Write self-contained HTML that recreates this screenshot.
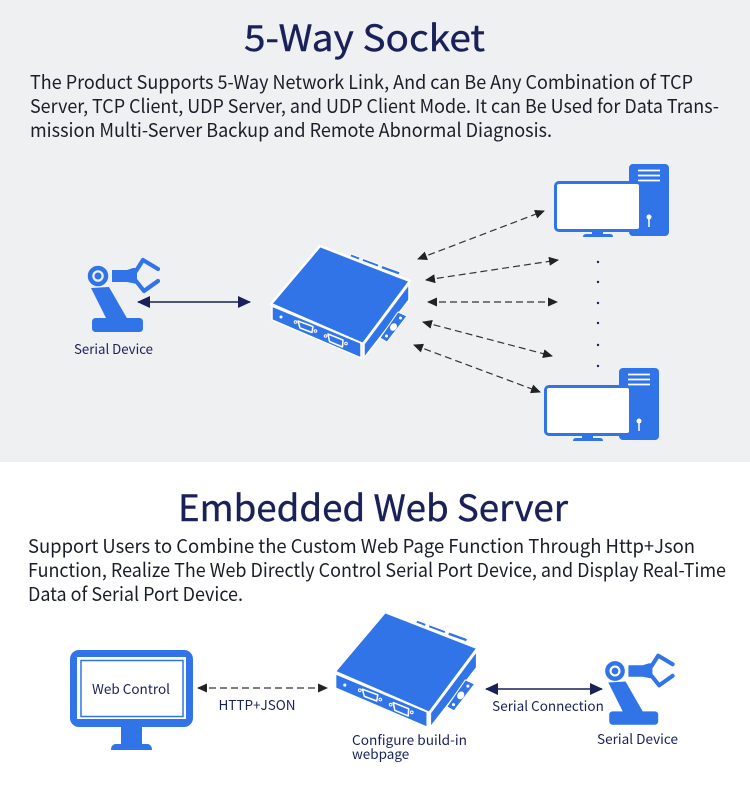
<!DOCTYPE html>
<html><head><meta charset="utf-8">
<style>
html,body{margin:0;padding:0;background:#fff}
svg{display:block}
text{font-family:"Noto Sans CJK SC","Liberation Sans",sans-serif}
</style></head><body>
<svg width="750" height="792" viewBox="0 0 750 792" xmlns="http://www.w3.org/2000/svg">
<defs>
<marker id="a" markerWidth="12" markerHeight="10" refX="9" refY="4.500" orient="auto-start-reverse" markerUnits="userSpaceOnUse"><path d="M0 0L10 4.500L0 9z" fill="#222"/></marker>
<marker id="b" markerWidth="14" markerHeight="14" refX="12" refY="6" orient="auto-start-reverse" markerUnits="userSpaceOnUse"><path d="M0 0L13 6L0 12z" fill="#1a2159"/></marker>
<g id="dev">
<path d="M351 254L360 257.500L359 260L350 256.500Z M363 258.500L379 264.500L378 267L362 261Z M382 265.500L400 272L399 275L381 268.500Z" fill="#3074e8" stroke="#fff" stroke-width=".8"/>
<path d="M320 246L410 281L363 344L271 304Z" fill="#3074e8" stroke="#fff" stroke-width="2.500" stroke-linejoin="miter"/>
<path d="M272 306L361 343V358L272 320Z" fill="#3074e8" stroke="#fff" stroke-width="1.500"/>
<path d="M409 284V300L364 358V344Z" fill="#3074e8" stroke="#fff" stroke-width="1.500"/>
<path d="M380 338L398 312L407 316L387 342Z" fill="#3074e8" stroke="#fff" stroke-width="1"/>
<ellipse cx="393.500" cy="327" rx="4" ry="3.200" fill="#fff" transform="rotate(-55 393.500 327)"/><circle cx="400.500" cy="318" r="1.500" fill="#fff"/><circle cx="386.500" cy="336" r="1.500" fill="#fff"/>
<circle cx="281" cy="317" r="1.500" fill="#fff"/>
<path d="M298 321L313 326.500L312 332.500L300 328Z" fill="none" stroke="#fff" stroke-width="1.500" stroke-linejoin="round"/>
<path d="M328 334L343 340L342.500 347L329.500 341.500Z" fill="none" stroke="#fff" stroke-width="1.500" stroke-linejoin="round"/>
<circle cx="295.500" cy="322" r="1.300" fill="none" stroke="#fff"/><circle cx="315.500" cy="331" r="1.300" fill="none" stroke="#fff"/>
<circle cx="325.500" cy="336" r="1.300" fill="none" stroke="#fff"/><circle cx="346" cy="343.500" r="1.300" fill="none" stroke="#fff"/>
</g>
<g id="arm">
<circle cx="98" cy="276" r="8" fill="none" stroke="#3074e8" stroke-width="4.500"/>
<circle cx="98" cy="276" r="3.500" fill="#3074e8"/>
<path d="M91 288L109 287L128 320H107Z" fill="#3074e8"/>
<rect x="92" y="318" width="51" height="14" rx="3.500" fill="#3074e8"/>
<path d="M112 270H127L133 268H137V284L127 282H112Z" fill="#3074e8"/>
<path d="M136 271L143 260L158 269M136 281L144 291L158 281" fill="none" stroke="#3074e8" stroke-width="4.200" stroke-linecap="round" stroke-linejoin="round"/>
</g>
<g id="pc">
<rect x="629" y="164" width="40" height="72" rx="4" fill="#3074e8"/>
<path d="M638 170.500H660M638 175.500H660M638 180.500H660" stroke="#fff" stroke-width="1.800"/>
<circle cx="649" cy="217" r="2.500" fill="#fff"/><path d="M649 217V227" stroke="#fff" stroke-width="1.500"/>
<rect x="555.500" y="182.500" width="85" height="48" rx="3.500" fill="#fff" stroke="#3074e8" stroke-width="3"/>
<path d="M592 231H603V234H610Q613 234 613 237H583Q583 234 586 234H592Z" fill="#3074e8"/>
</g>
</defs>

<rect x="0" y="0" width="750" height="462" fill="#eff0f2"/>
<text x="244" y="51" font-size="36" textLength="241" lengthAdjust="spacingAndGlyphs" fill="#1a2159" stroke="#1a2159" stroke-width=".4">5-Way Socket</text>
<g font-size="19" fill="#1a1e28">
<text x="30" y="89" textLength="663" lengthAdjust="spacingAndGlyphs">The Product Supports 5-Way Network Link, And can Be Any Combination of TCP</text>
<text x="30" y="113" textLength="689" lengthAdjust="spacingAndGlyphs">Server, TCP Client, UDP Server, and UDP Client Mode. It can Be Used for Data Trans-</text>
<text x="30" y="137" textLength="522" lengthAdjust="spacingAndGlyphs">mission Multi-Server Backup and Remote Abnormal Diagnosis.</text>
</g>

<use href="#pc"/>
<use href="#pc" x="-10" y="204"/>
<use href="#dev"/>
<use href="#arm"/>
<text x="74" y="354" font-size="13.500" textLength="79" lengthAdjust="spacingAndGlyphs" fill="#1a2159">Serial Device</text>
<line x1="138" y1="302" x2="250" y2="302" stroke="#1a2159" stroke-width="1.500" marker-start="url(#b)" marker-end="url(#b)"/>

<g stroke="#333" stroke-width="1.200" stroke-dasharray="7 4" fill="none">
<line x1="418" y1="259" x2="544" y2="211" marker-start="url(#a)" marker-end="url(#a)"/>
<line x1="426" y1="280" x2="558" y2="260" marker-start="url(#a)" marker-end="url(#a)"/>
<line x1="428" y1="302" x2="557" y2="302" marker-start="url(#a)" marker-end="url(#a)"/>
<line x1="423" y1="322" x2="552" y2="356" marker-start="url(#a)" marker-end="url(#a)"/>
<line x1="414" y1="345" x2="540" y2="392" marker-start="url(#a)" marker-end="url(#a)"/>
</g>
<g fill="#1a2159"><circle cx="598" cy="262" r="1.200"/><circle cx="598" cy="282" r="1.200"/><circle cx="598" cy="303" r="1.200"/><circle cx="598" cy="323" r="1.200"/><circle cx="598" cy="345" r="1.200"/><circle cx="598" cy="366" r="1.200"/></g>

<text x="178" y="521" font-size="36" textLength="390" lengthAdjust="spacingAndGlyphs" fill="#1a2159" stroke="#1a2159" stroke-width=".4">Embedded Web Server</text>
<g font-size="19" fill="#1a1e28">
<text x="28" y="553" textLength="667" lengthAdjust="spacingAndGlyphs">Support Users to Combine the Custom Web Page Function Through Http+Json</text>
<text x="28" y="577" textLength="698" lengthAdjust="spacingAndGlyphs">Function, Realize The Web Directly Control Serial Port Device, and Display Real-Time</text>
<text x="28" y="601" textLength="215" lengthAdjust="spacingAndGlyphs">Data of Serial Port Device.</text>
</g>

<rect x="70" y="650" width="123" height="77" rx="9" fill="#3074e8"/>
<rect x="77" y="657" width="109" height="62" fill="#fff"/>
<rect x="81" y="660.500" width="102" height="56" fill="none" stroke="#3074e8" stroke-width="1.500"/>
<path d="M121 726H142V744H148Q152 745 152 750H111Q111 745 115 744H121Z" fill="#3074e8"/>
<text x="92" y="694" font-size="13.500" textLength="78" lengthAdjust="spacingAndGlyphs" fill="#1a2159">Web Control</text>

<line x1="198" y1="688" x2="327" y2="688" stroke="#333" stroke-width="1.200" stroke-dasharray="7 4" marker-start="url(#a)" marker-end="url(#a)"/>
<text x="257" y="710" font-size="13.500" text-anchor="middle" fill="#1a2159">HTTP+JSON</text>

<use href="#dev" transform="translate(385 614) scale(1.030) translate(-320 -248)"/>
<text x="352" y="745" font-size="13.500" textLength="115" lengthAdjust="spacingAndGlyphs" fill="#1a2159">Configure build-in</text>
<text x="352" y="759" font-size="13.500" fill="#1a2159">webpage</text>

<line x1="486" y1="689" x2="602" y2="689" stroke="#1a2159" stroke-width="1.500" marker-start="url(#b)" marker-end="url(#b)"/>
<text x="548" y="711" font-size="13.500" text-anchor="middle" fill="#1a2159">Serial Connection</text>
<use href="#arm" transform="translate(615 671) scale(.96) translate(-98 -276)"/>
<text x="597" y="744" font-size="13.500" textLength="81" lengthAdjust="spacingAndGlyphs" fill="#1a2159">Serial Device</text>
</svg>
</body></html>
